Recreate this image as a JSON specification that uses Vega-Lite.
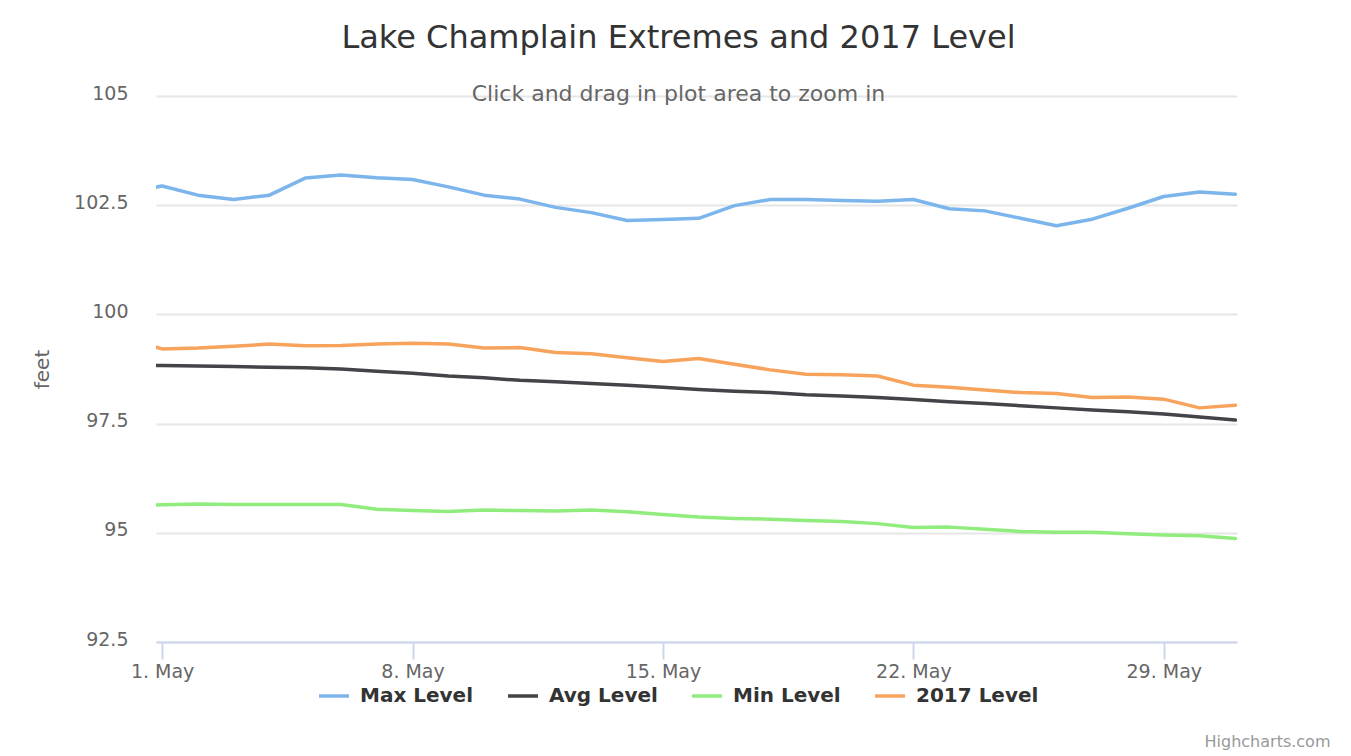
{
  "$schema": "https://vega.github.io/schema/vega-lite/v6.json",
  "autosize": "none",
  "width": 1081,
  "height": 546,
  "padding": {"left": 156, "top": 96, "right": 114, "bottom": 114},
  "background": "white",
  "title": {
    "text": "Lake Champlain Extremes and 2017 Level",
    "subtitle": "Click and drag in plot area to zoom in",
    "anchor": "middle",
    "frame": "group",
    "dx": -18,
    "offset": -22,
    "fontSize": 32,
    "fontWeight": "normal",
    "color": "#333333",
    "subtitleFontSize": 22,
    "subtitleColor": "#666666",
    "subtitlePadding": 29
  },
  "config": {
    "font": "DejaVu Sans",
    "view": {"stroke": null}
  },
  "data": {
    "values": [
      {"date": "2017-04-30", "series": "Max Level", "feet": 102.79},
      {"date": "2017-05-01", "series": "Max Level", "feet": 102.94},
      {"date": "2017-05-02", "series": "Max Level", "feet": 102.73},
      {"date": "2017-05-03", "series": "Max Level", "feet": 102.63},
      {"date": "2017-05-04", "series": "Max Level", "feet": 102.73},
      {"date": "2017-05-05", "series": "Max Level", "feet": 103.12},
      {"date": "2017-05-06", "series": "Max Level", "feet": 103.19},
      {"date": "2017-05-07", "series": "Max Level", "feet": 103.13},
      {"date": "2017-05-08", "series": "Max Level", "feet": 103.09},
      {"date": "2017-05-09", "series": "Max Level", "feet": 102.92},
      {"date": "2017-05-10", "series": "Max Level", "feet": 102.73},
      {"date": "2017-05-11", "series": "Max Level", "feet": 102.64},
      {"date": "2017-05-12", "series": "Max Level", "feet": 102.45},
      {"date": "2017-05-13", "series": "Max Level", "feet": 102.33},
      {"date": "2017-05-14", "series": "Max Level", "feet": 102.15},
      {"date": "2017-05-15", "series": "Max Level", "feet": 102.17},
      {"date": "2017-05-16", "series": "Max Level", "feet": 102.2},
      {"date": "2017-05-17", "series": "Max Level", "feet": 102.49},
      {"date": "2017-05-18", "series": "Max Level", "feet": 102.63},
      {"date": "2017-05-19", "series": "Max Level", "feet": 102.63},
      {"date": "2017-05-20", "series": "Max Level", "feet": 102.61},
      {"date": "2017-05-21", "series": "Max Level", "feet": 102.59},
      {"date": "2017-05-22", "series": "Max Level", "feet": 102.63},
      {"date": "2017-05-23", "series": "Max Level", "feet": 102.42},
      {"date": "2017-05-24", "series": "Max Level", "feet": 102.37},
      {"date": "2017-05-25", "series": "Max Level", "feet": 102.2},
      {"date": "2017-05-26", "series": "Max Level", "feet": 102.03},
      {"date": "2017-05-27", "series": "Max Level", "feet": 102.18},
      {"date": "2017-05-28", "series": "Max Level", "feet": 102.43},
      {"date": "2017-05-29", "series": "Max Level", "feet": 102.7},
      {"date": "2017-05-30", "series": "Max Level", "feet": 102.8},
      {"date": "2017-05-31", "series": "Max Level", "feet": 102.75},

      {"date": "2017-04-30", "series": "Avg Level", "feet": 98.84},
      {"date": "2017-05-01", "series": "Avg Level", "feet": 98.83},
      {"date": "2017-05-02", "series": "Avg Level", "feet": 98.82},
      {"date": "2017-05-03", "series": "Avg Level", "feet": 98.81},
      {"date": "2017-05-04", "series": "Avg Level", "feet": 98.79},
      {"date": "2017-05-05", "series": "Avg Level", "feet": 98.78},
      {"date": "2017-05-06", "series": "Avg Level", "feet": 98.75},
      {"date": "2017-05-07", "series": "Avg Level", "feet": 98.7},
      {"date": "2017-05-08", "series": "Avg Level", "feet": 98.65},
      {"date": "2017-05-09", "series": "Avg Level", "feet": 98.59},
      {"date": "2017-05-10", "series": "Avg Level", "feet": 98.55},
      {"date": "2017-05-11", "series": "Avg Level", "feet": 98.49},
      {"date": "2017-05-12", "series": "Avg Level", "feet": 98.46},
      {"date": "2017-05-13", "series": "Avg Level", "feet": 98.42},
      {"date": "2017-05-14", "series": "Avg Level", "feet": 98.38},
      {"date": "2017-05-15", "series": "Avg Level", "feet": 98.33},
      {"date": "2017-05-16", "series": "Avg Level", "feet": 98.28},
      {"date": "2017-05-17", "series": "Avg Level", "feet": 98.24},
      {"date": "2017-05-18", "series": "Avg Level", "feet": 98.21},
      {"date": "2017-05-19", "series": "Avg Level", "feet": 98.16},
      {"date": "2017-05-20", "series": "Avg Level", "feet": 98.13},
      {"date": "2017-05-21", "series": "Avg Level", "feet": 98.1},
      {"date": "2017-05-22", "series": "Avg Level", "feet": 98.05},
      {"date": "2017-05-23", "series": "Avg Level", "feet": 98.0},
      {"date": "2017-05-24", "series": "Avg Level", "feet": 97.96},
      {"date": "2017-05-25", "series": "Avg Level", "feet": 97.91},
      {"date": "2017-05-26", "series": "Avg Level", "feet": 97.86},
      {"date": "2017-05-27", "series": "Avg Level", "feet": 97.81},
      {"date": "2017-05-28", "series": "Avg Level", "feet": 97.77},
      {"date": "2017-05-29", "series": "Avg Level", "feet": 97.72},
      {"date": "2017-05-30", "series": "Avg Level", "feet": 97.65},
      {"date": "2017-05-31", "series": "Avg Level", "feet": 97.58},

      {"date": "2017-04-30", "series": "Min Level", "feet": 95.62},
      {"date": "2017-05-01", "series": "Min Level", "feet": 95.64},
      {"date": "2017-05-02", "series": "Min Level", "feet": 95.66},
      {"date": "2017-05-03", "series": "Min Level", "feet": 95.65},
      {"date": "2017-05-04", "series": "Min Level", "feet": 95.65},
      {"date": "2017-05-05", "series": "Min Level", "feet": 95.65},
      {"date": "2017-05-06", "series": "Min Level", "feet": 95.65},
      {"date": "2017-05-07", "series": "Min Level", "feet": 95.54},
      {"date": "2017-05-08", "series": "Min Level", "feet": 95.51},
      {"date": "2017-05-09", "series": "Min Level", "feet": 95.49},
      {"date": "2017-05-10", "series": "Min Level", "feet": 95.52},
      {"date": "2017-05-11", "series": "Min Level", "feet": 95.51},
      {"date": "2017-05-12", "series": "Min Level", "feet": 95.5},
      {"date": "2017-05-13", "series": "Min Level", "feet": 95.52},
      {"date": "2017-05-14", "series": "Min Level", "feet": 95.48},
      {"date": "2017-05-15", "series": "Min Level", "feet": 95.42},
      {"date": "2017-05-16", "series": "Min Level", "feet": 95.36},
      {"date": "2017-05-17", "series": "Min Level", "feet": 95.33},
      {"date": "2017-05-18", "series": "Min Level", "feet": 95.31},
      {"date": "2017-05-19", "series": "Min Level", "feet": 95.28},
      {"date": "2017-05-20", "series": "Min Level", "feet": 95.26},
      {"date": "2017-05-21", "series": "Min Level", "feet": 95.21},
      {"date": "2017-05-22", "series": "Min Level", "feet": 95.12},
      {"date": "2017-05-23", "series": "Min Level", "feet": 95.13},
      {"date": "2017-05-24", "series": "Min Level", "feet": 95.08},
      {"date": "2017-05-25", "series": "Min Level", "feet": 95.03},
      {"date": "2017-05-26", "series": "Min Level", "feet": 95.01},
      {"date": "2017-05-27", "series": "Min Level", "feet": 95.01},
      {"date": "2017-05-28", "series": "Min Level", "feet": 94.98},
      {"date": "2017-05-29", "series": "Min Level", "feet": 94.95},
      {"date": "2017-05-30", "series": "Min Level", "feet": 94.93},
      {"date": "2017-05-31", "series": "Min Level", "feet": 94.87},

      {"date": "2017-04-30", "series": "2017 Level", "feet": 99.45},
      {"date": "2017-05-01", "series": "2017 Level", "feet": 99.21},
      {"date": "2017-05-02", "series": "2017 Level", "feet": 99.23},
      {"date": "2017-05-03", "series": "2017 Level", "feet": 99.27},
      {"date": "2017-05-04", "series": "2017 Level", "feet": 99.32},
      {"date": "2017-05-05", "series": "2017 Level", "feet": 99.28},
      {"date": "2017-05-06", "series": "2017 Level", "feet": 99.29},
      {"date": "2017-05-07", "series": "2017 Level", "feet": 99.32},
      {"date": "2017-05-08", "series": "2017 Level", "feet": 99.34},
      {"date": "2017-05-09", "series": "2017 Level", "feet": 99.32},
      {"date": "2017-05-10", "series": "2017 Level", "feet": 99.23},
      {"date": "2017-05-11", "series": "2017 Level", "feet": 99.24},
      {"date": "2017-05-12", "series": "2017 Level", "feet": 99.13},
      {"date": "2017-05-13", "series": "2017 Level", "feet": 99.1},
      {"date": "2017-05-14", "series": "2017 Level", "feet": 99.01},
      {"date": "2017-05-15", "series": "2017 Level", "feet": 98.92},
      {"date": "2017-05-16", "series": "2017 Level", "feet": 98.99},
      {"date": "2017-05-17", "series": "2017 Level", "feet": 98.86},
      {"date": "2017-05-18", "series": "2017 Level", "feet": 98.73},
      {"date": "2017-05-19", "series": "2017 Level", "feet": 98.63},
      {"date": "2017-05-20", "series": "2017 Level", "feet": 98.62},
      {"date": "2017-05-21", "series": "2017 Level", "feet": 98.59},
      {"date": "2017-05-22", "series": "2017 Level", "feet": 98.38},
      {"date": "2017-05-23", "series": "2017 Level", "feet": 98.33},
      {"date": "2017-05-24", "series": "2017 Level", "feet": 98.27},
      {"date": "2017-05-25", "series": "2017 Level", "feet": 98.21},
      {"date": "2017-05-26", "series": "2017 Level", "feet": 98.19},
      {"date": "2017-05-27", "series": "2017 Level", "feet": 98.1},
      {"date": "2017-05-28", "series": "2017 Level", "feet": 98.11},
      {"date": "2017-05-29", "series": "2017 Level", "feet": 98.06},
      {"date": "2017-05-30", "series": "2017 Level", "feet": 97.86},
      {"date": "2017-05-31", "series": "2017 Level", "feet": 97.92}
    ]
  },
  "mark": {"type": "line", "strokeWidth": 3.5, "clip": true, "strokeJoin": "round", "strokeCap": "round"},
  "encoding": {
    "x": {
      "field": "date",
      "type": "temporal",
      "scale": {
        "type": "utc",
        "domain": [
          {"year": 2017, "month": "April", "date": 30, "hours": 19, "minutes": 54, "utc": true},
          {"year": 2017, "month": "May", "date": 31, "hours": 1, "minutes": 8, "utc": true}
        ]
      },
      "axis": {
        "values": [
          {"year": 2017, "month": "May", "date": 1, "utc": true},
          {"year": 2017, "month": "May", "date": 8, "utc": true},
          {"year": 2017, "month": "May", "date": 15, "utc": true},
          {"year": 2017, "month": "May", "date": 22, "utc": true},
          {"year": 2017, "month": "May", "date": 29, "utc": true}
        ],
        "labelExpr": "utcFormat(datum.value, '%-d. %b')",
        "grid": false,
        "domainColor": "#ccd6eb",
        "domainWidth": 2,
        "tickColor": "#ccd6eb",
        "tickWidth": 2,
        "tickSize": 17,
        "labelFontSize": 19,
        "labelColor": "#666666",
        "labelPadding": 3,
        "labelFlush": false,
        "labelOverlap": false,
        "title": "Highcharts.com",
        "titleFontSize": 16,
        "titleFontWeight": "normal",
        "titleColor": "#999999",
        "titleAlign": "right",
        "titleBaseline": "alphabetic",
        "titleX": 1174,
        "titleY": 104
      }
    },
    "y": {
      "field": "feet",
      "type": "quantitative",
      "scale": {"domain": [92.5, 105], "nice": false, "zero": false},
      "axis": {
        "values": [92.5, 95, 97.5, 100, 102.5, 105],
        "format": ".1~f",
        "ticks": false,
        "domain": false,
        "grid": true,
        "gridColor": "#e6e6e6",
        "gridWidth": 2,
        "labelFontSize": 19,
        "labelColor": "#666666",
        "labelPadding": 28,
        "labelOffset": -3,
        "title": "feet",
        "titleFontSize": 20,
        "titleFontWeight": "normal",
        "titleColor": "#666666",
        "titleAngle": -90,
        "titleAlign": "center",
        "titleBaseline": "middle",
        "titleX": -114,
        "titleY": 273
      }
    },
    "color": {
      "field": "series",
      "type": "nominal",
      "scale": {
        "domain": ["Max Level", "Avg Level", "Min Level", "2017 Level"],
        "range": ["#7cb5ec", "#434348", "#90ed7d", "#f7a35c"]
      },
      "legend": {
        "orient": "none",
        "direction": "horizontal",
        "legendX": 161,
        "legendY": 583,
        "title": null,
        "padding": 0,
        "symbolType": "stroke",
        "symbolSize": 900,
        "symbolStrokeWidth": 3.5,
        "labelFontSize": 20,
        "labelFontWeight": "bold",
        "labelColor": "#333333",
        "labelOffset": 9,
        "columnPadding": 27
      }
    }
  }
}
